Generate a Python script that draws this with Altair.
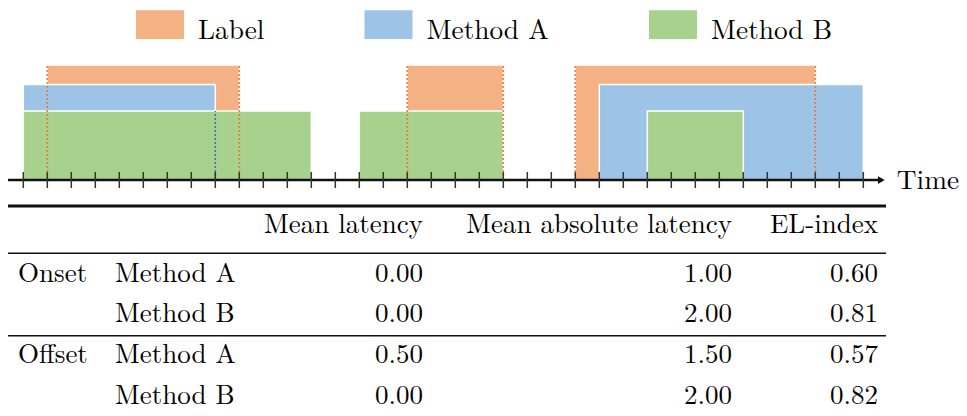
import altair as alt
import pandas as pd

# ---------------- data ----------------
SERIES = ["Label", "Method A", "Method B"]
COLORS = ["#F4B183", "#9DC3E6", "#A9D18E"]
LABEL_SEGMENTS = [(1, 9), (16, 20), (23, 33)]
METHOD_A_SEGMENTS = [(0, 8), (24, 35)]
METHOD_B_SEGMENTS = [(0, 12), (14, 20), (26, 30)]
LEVELS = [1.0, 0.83, 0.6]          # bar heights per series
LABEL_EDGES = [1, 9, 16, 20, 23, 33]
METHOD_A_MARKS = [8]
TICKS = list(range(0, 36))

HEADERS = ["Mean latency", "Mean absolute latency", "EL-index"]
GROUPS = ["Onset", "", "Offset", ""]
METHODS = ["Method A", "Method B", "Method A", "Method B"]
MEAN_LATENCY = ["0.00", "0.00", "0.50", "0.00"]
MEAN_ABS_LATENCY = ["1.00", "2.00", "1.50", "2.00"]
EL_INDEX = ["0.60", "0.81", "0.57", "0.82"]

# ---------------- layout ----------------
W, H = 951, 408
FONT = "Latin Modern Roman"
X_DOM = [-0.6375, 38.9875]
Y_DOM = [-2.052, 1.4957]
T_DOM = [-5.556, 4.5185]
ROW_POS = [1.217, 2.19, 3.217, 4.222]
HEADER_POS = 0.0
RULE_POS = [-0.667, 0.501, 2.536]
RULE_W = [2.8, 1.4, 1.4]
COL_X = {"group": 10, "method": 107, "c1": 415, "c2": 724, "c3": 870}
TICK_HALF = 0.07
AXIS_START, AXIS_END = -0.68, 35.75

xs = alt.Scale(domain=X_DOM, nice=False, zero=False)
ys = alt.Scale(domain=Y_DOM, nice=False, zero=False)
ts = alt.Scale(domain=T_DOM, nice=False, zero=False, reverse=True)

rows = []
for s, segs, lv in zip(SERIES, [LABEL_SEGMENTS, METHOD_A_SEGMENTS, METHOD_B_SEGMENTS], LEVELS):
    for a, b in segs:
        rows.append({"series": s, "start": a, "end": b, "level": lv, "base": 0.0})
rect_df = pd.DataFrame(rows)

legend = alt.Legend(
    orient="none", legendX=128, legendY=6.7, direction="horizontal", columns=3,
    title=None, symbolType="M-1,-1.2H1V0H-1Z", symbolSize=2304,
    symbolStrokeWidth=0, symbolOpacity=1, labelFont=FONT, labelFontSize=27.3,
    labelBaseline="alphabetic",
    labelColor="black", labelOffset=14, columnPadding=99.5, padding=0,
)

rects = alt.Chart(rect_df).mark_rect(stroke="white", strokeWidth=1.5, opacity=1).encode(
    x=alt.X("start:Q", scale=xs, axis=None),
    x2="end:Q",
    y=alt.Y("base:Q", scale=ys, axis=None),
    y2="level:Q",
    color=alt.Color("series:N", scale=alt.Scale(domain=SERIES, range=COLORS), legend=legend),
)

lab_df = pd.DataFrame({"t": LABEL_EDGES, "base": 0.0, "top": LEVELS[0]})
lab_lines = alt.Chart(lab_df).mark_rule(color="#ED7D31", strokeWidth=1.6, strokeDash=[2, 2]).encode(
    x=alt.X("t:Q", scale=xs, axis=None), y=alt.Y("base:Q", scale=ys, axis=None), y2="top:Q"
)
a_df = pd.DataFrame({"t": METHOD_A_MARKS, "base": 0.0, "top": LEVELS[2]})
a_lines = alt.Chart(a_df).mark_rule(color="#2E75B6", strokeWidth=1.6, strokeDash=[2, 2]).encode(
    x=alt.X("t:Q", scale=xs, axis=None), y=alt.Y("base:Q", scale=ys, axis=None), y2="top:Q"
)

axis_df = pd.DataFrame({"a": [AXIS_START], "b": [AXIS_END], "y": [0.0]})
axis_line = alt.Chart(axis_df).mark_rule(color="#111", strokeWidth=2.6).encode(
    x=alt.X("a:Q", scale=xs, axis=None), x2="b:Q", y=alt.Y("y:Q", scale=ys, axis=None)
)
arrow = alt.Chart(axis_df).mark_point(shape="triangle-right", filled=True, color="#111", size=60, opacity=1).encode(
    x=alt.X("b:Q", scale=xs, axis=None), y=alt.Y("y:Q", scale=ys, axis=None)
)
tick_df = pd.DataFrame({"t": TICKS, "lo": -TICK_HALF, "hi": TICK_HALF})
ticks = alt.Chart(tick_df).mark_rule(color="#333", strokeWidth=1.5).encode(
    x=alt.X("t:Q", scale=xs, axis=None), y=alt.Y("lo:Q", scale=ys, axis=None), y2="hi:Q"
)
time_txt = alt.Chart(pd.DataFrame({"s": ["Time"]})).mark_text(
    font=FONT, fontSize=27.3, align="right", baseline="alphabetic", color="black"
).encode(x=alt.value(951), y=alt.value(181), text="s:N")

# ---------------- table ----------------
rule_df = pd.DataFrame({"pos": RULE_POS, "w": RULE_W})
trules = alt.Chart(rule_df).mark_rule(color="#111").encode(
    x=alt.value(0), x2=alt.value(878),
    y=alt.Y("pos:Q", scale=ts, axis=None),
    strokeWidth=alt.StrokeWidth("w:Q", scale=None),
)

body = pd.DataFrame({
    "pos": ROW_POS, "group": GROUPS, "method": METHODS,
    "c1": MEAN_LATENCY, "c2": MEAN_ABS_LATENCY, "c3": EL_INDEX,
})
head = pd.DataFrame({"pos": [HEADER_POS], "c1": [HEADERS[0]], "c2": [HEADERS[1]], "c3": [HEADERS[2]]})


def col(df, field, align):
    return alt.Chart(df).mark_text(font=FONT, fontSize=27, align=align, baseline="alphabetic", color="black").encode(
        x=alt.value(COL_X[field]), y=alt.Y("pos:Q", scale=ts, axis=None), text=f"{field}:N"
    )


table_layers = [trules,
                col(body, "group", "left"), col(body, "method", "left"),
                col(body, "c1", "right"), col(body, "c2", "right"), col(body, "c3", "right"),
                col(head, "c1", "right"), col(head, "c2", "right"), col(head, "c3", "right")]

chart = alt.layer(
    rects, lab_lines, a_lines, axis_line, ticks, arrow, time_txt, *table_layers
).resolve_scale(x="independent", y="independent").properties(
    width=W, height=H, padding=0, autosize=alt.AutoSizeParams(type="none"), background="white"
).configure_view(stroke=None)

chart.save("out.html", embed_options={"renderer": "svg", "actions": False})
